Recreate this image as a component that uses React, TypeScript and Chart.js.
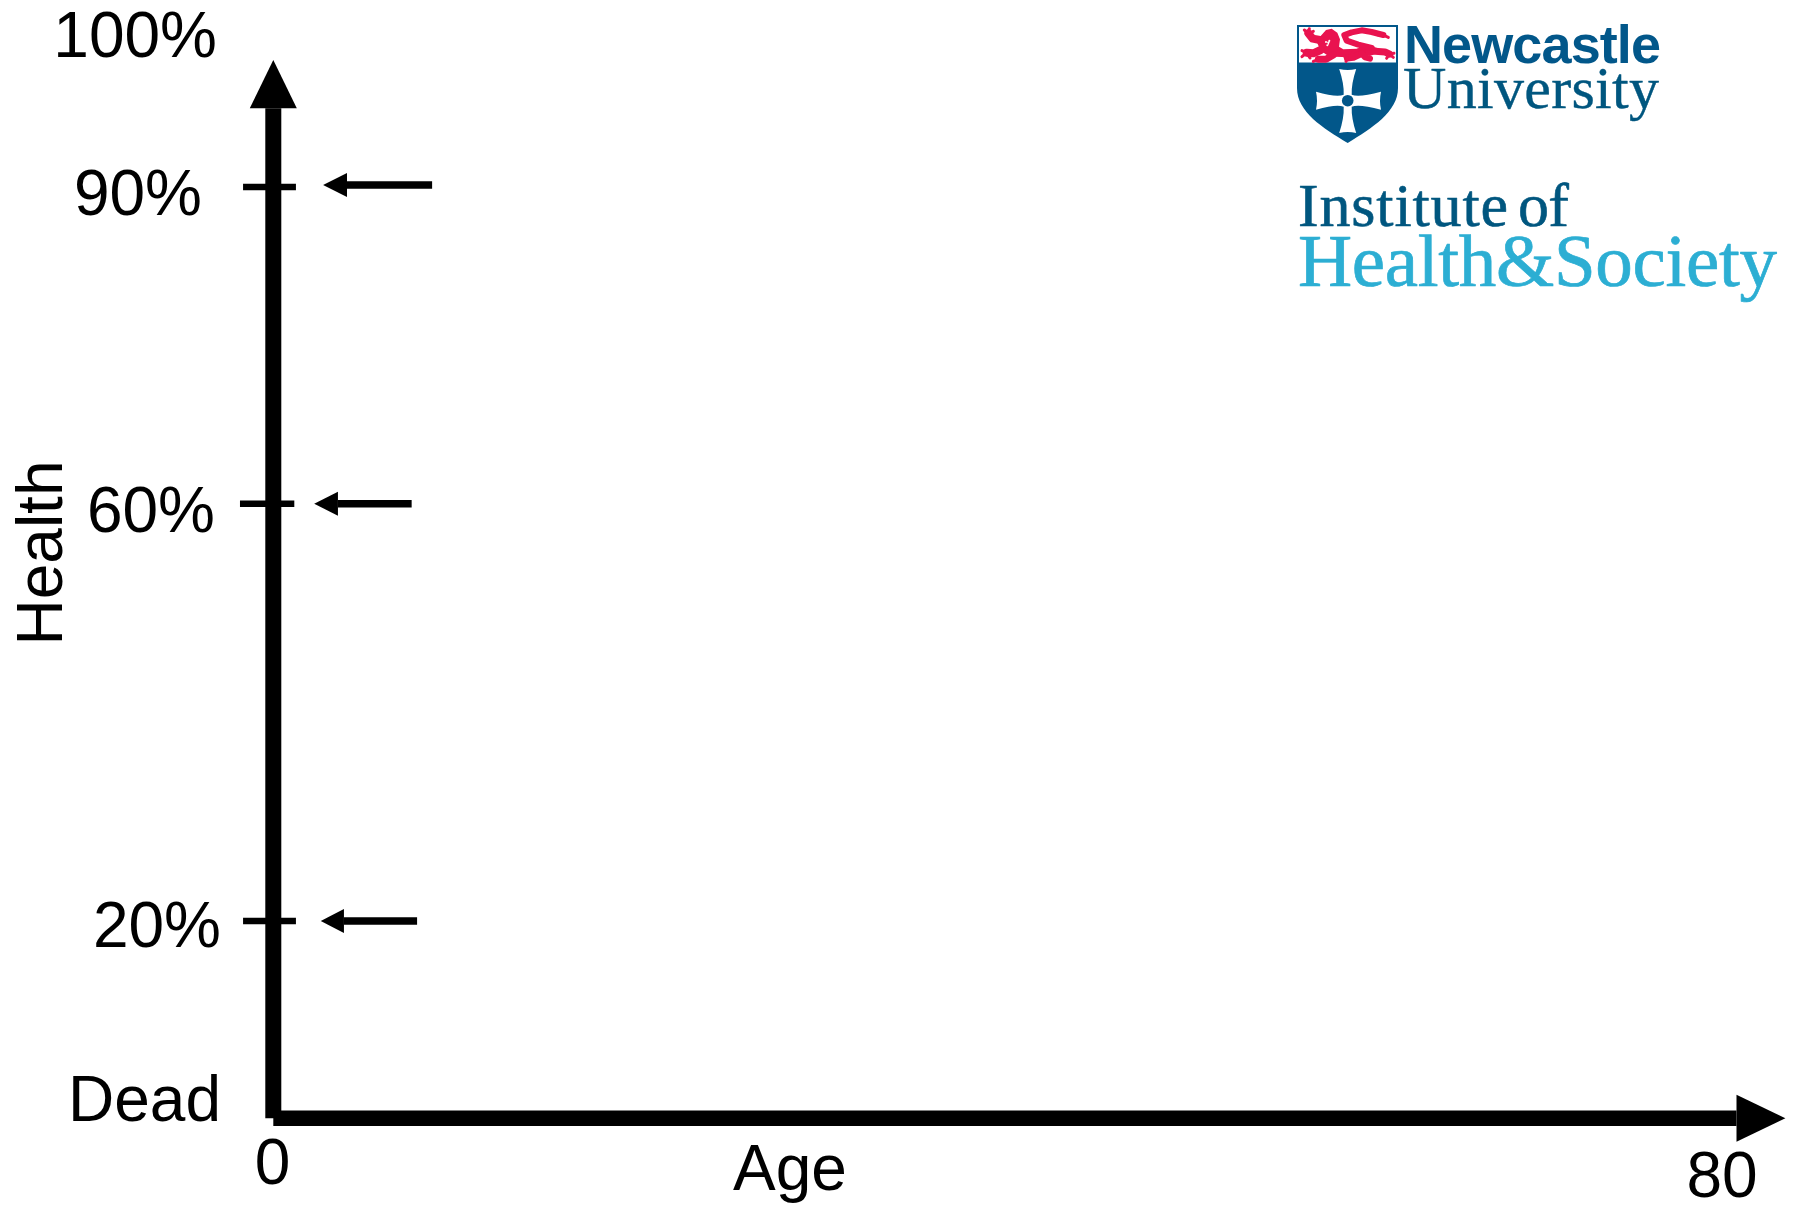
import React, { useEffect, useRef } from "react";
import { Chart, registerables } from "chart.js";

Chart.register(...registerables);

// ---- data (x = age in years, y = health %) ----
const ageRange = [0, 80];
const healthMin = 1.18;
const healthMax = 102.11;

const axisTopHealth = 97.5;
const axisEndAge = 80.8;
const axisTipAge = 83.5;

const tickLevels = [90, 59.8, 20];
const tickStarts = [-1.67, -1.84, -1.67];
const tickEnds = [1.25, 1.16, 1.25];

const arrowLevels = [90.2, 59.8, 20];
const arrowTails = [8.77, 7.64, 7.94];
const arrowBases = [4.07, 3.57, 3.9];
const arrowTips = [2.75, 2.26, 2.62];

const yLabelTexts = ["100%", "90%", "60%", "20%", "Dead"];
const xLabelTexts = ["0", "80"];
const xTitle = "Age";
const yTitle = "Health";

const FONT = '"Liberation Sans", Arial, sans-serif';
const SERIF = '"Liberation Serif", "Times New Roman", serif';
const DARK = "#00567f";
const SHIELD = "#02578a";
const LIGHT = "#2caed3";
const RED = "#e9134f";

// pixel placement of the free-floating labels [right/centre x, baseline y]
const yLabelPlaces = [[217, 56.5], [202, 214.5], [215, 531.5], [221, 947], [221, 1121]];
const xLabelPlaces = [[272.5, 1184], [1722, 1197]];

function fit(ctx: any, text: string, font: string, x: number, y: number, width: number, color: string, weight = 0) {
  ctx.font = font;
  ctx.fillStyle = color;
  ctx.strokeStyle = color;
  ctx.textAlign = "left";
  ctx.letterSpacing = "0px";
  const w = ctx.measureText(text).width;
  ctx.letterSpacing = (width - w) / (text.length - 1) + "px";
  ctx.fillText(text, x, y);
  if (weight > 0) {
    ctx.lineWidth = weight;
    ctx.lineJoin = "round";
    ctx.strokeText(text, x, y);
  }
  ctx.letterSpacing = "0px";
}

function drawLogo(ctx: any) {
  const X = (v: number) => 1290 + v / 3;
  const Y = (v: number) => 20 + v / 3;
  const poly = (pts: number[][]) => {
    ctx.beginPath();
    pts.forEach((p, i) => (i ? ctx.lineTo(X(p[0]), Y(p[1])) : ctx.moveTo(X(p[0]), Y(p[1]))));
    ctx.closePath();
    ctx.fill();
  };
  const stroke = (pts: number[][], w: number) => {
    ctx.lineWidth = w;
    ctx.lineCap = "round";
    ctx.lineJoin = "round";
    ctx.beginPath();
    pts.forEach((p, i) => (i ? ctx.lineTo(X(p[0]), Y(p[1])) : ctx.moveTo(X(p[0]), Y(p[1]))));
    ctx.stroke();
  };
  ctx.save();
  // shield
  ctx.beginPath();
  ctx.moveTo(1297, 25);
  ctx.lineTo(1398, 25);
  ctx.lineTo(1398, 88);
  ctx.bezierCurveTo(1398, 112, 1372, 128, 1347.7, 143);
  ctx.bezierCurveTo(1323, 128, 1297, 112, 1297, 88);
  ctx.closePath();
  ctx.fillStyle = SHIELD;
  ctx.fill();
  ctx.fillStyle = "#ffffff";
  ctx.fillRect(1299, 27, 97, 35.5);
  // cross
  const cx = 1347.7;
  const cy = 100.7;
  ctx.beginPath();
  ctx.moveTo(cx - 8.5, 69);
  ctx.quadraticCurveTo(cx, 71, cx + 8.5, 69);
  ctx.quadraticCurveTo(cx + 3.5, 84, cx + 4, cy - 6);
  ctx.quadraticCurveTo(cx + 11, cy - 3, 1381, cy - 9);
  ctx.quadraticCurveTo(1379, cy, 1381, cy + 9);
  ctx.quadraticCurveTo(cx + 11, cy + 3, cx + 4, cy + 6);
  ctx.quadraticCurveTo(cx + 3.5, 118, cx + 8.5, 133);
  ctx.quadraticCurveTo(cx, 131, cx - 8.5, 133);
  ctx.quadraticCurveTo(cx - 3.5, 118, cx - 4, cy + 6);
  ctx.quadraticCurveTo(cx - 11, cy + 3, 1316, cy + 9);
  ctx.quadraticCurveTo(1318, cy, 1316, cy - 9);
  ctx.quadraticCurveTo(cx - 11, cy - 3, cx - 4, cy - 6);
  ctx.quadraticCurveTo(cx - 3.5, 84, cx - 8.5, 69);
  ctx.closePath();
  ctx.fillStyle = "#ffffff";
  ctx.fill();
  ctx.beginPath();
  ctx.arc(cx, cy, 5.8, 0, Math.PI * 2);
  ctx.fillStyle = SHIELD;
  ctx.fill();
  // lion
  ctx.fillStyle = RED;
  ctx.strokeStyle = RED;
  poly([[92, 48], [108, 30], [125, 26], [142, 38], [150, 58], [147, 80], [160, 88], [200, 86], [240, 78], [262, 84], [262, 100], [240, 108], [205, 104], [175, 112], [135, 110], [112, 106], [92, 92], [82, 70]]);
  stroke([[245, 84], [205, 74], [170, 62], [163, 45], [185, 37], [215, 31], [245, 36], [280, 45]], 6);
  stroke([[262, 44], [282, 46], [295, 52]], 3);
  stroke([[90, 60], [68, 56], [55, 40]], 8);
  stroke([[55, 40], [43, 30]], 3);
  stroke([[55, 40], [58, 26]], 3);
  stroke([[55, 40], [70, 34]], 3);
  stroke([[92, 90], [70, 100], [50, 98]], 8);
  stroke([[50, 98], [36, 92]], 3);
  stroke([[50, 98], [36, 110]], 3);
  stroke([[50, 98], [60, 114]], 3);
  stroke([[130, 105], [108, 118], [85, 118]], 7);
  stroke([[85, 118], [70, 124]], 3);
  stroke([[195, 102], [215, 94]], 8);
  stroke([[215, 100], [190, 112], [172, 114]], 7);
  stroke([[172, 114], [162, 108]], 3);
  stroke([[172, 114], [168, 124]], 3);
  stroke([[255, 94], [285, 96], [298, 102]], 7);
  stroke([[298, 102], [312, 100]], 3);
  stroke([[298, 102], [310, 112]], 3);
  stroke([[298, 102], [290, 115]], 3);
  stroke([[215, 100], [225, 112], [240, 116]], 6);
  ctx.fillStyle = "#ffffff";
  ctx.beginPath();
  ctx.arc(X(108), Y(66), 1, 0, Math.PI * 2);
  ctx.arc(X(118), Y(62), 1, 0, Math.PI * 2);
  ctx.arc(X(112), Y(76), 1, 0, Math.PI * 2);
  ctx.fill();
  // wordmarks
  ctx.textBaseline = "alphabetic";
  fit(ctx, "Newcastle", `bold 54px ${FONT}`, 1404, 63, 257, SHIELD);
  fit(ctx, "University", `60px ${SERIF}`, 1403, 108, 256, DARK, 0.4);
  fit(ctx, "Institute", `62px ${SERIF}`, 1298, 226, 210, DARK, 0.6);
  fit(ctx, "of", `62px ${SERIF}`, 1518, 226, 51, DARK, 0.6);
  fit(ctx, "Health&Society", `75px ${SERIF}`, 1298, 286, 479, LIGHT, 0.7);
  ctx.restore();
}

const overlay = {
  id: "overlay",
  afterDatasetsDraw(chart: any) {
    const { ctx, scales } = chart;
    const px = (v: number) => scales.x.getPixelForValue(v);
    const py = (v: number) => scales.y.getPixelForValue(v);
    const tri = (a: number[], b: number[], c: number[]) => {
      ctx.beginPath();
      ctx.moveTo(a[0], a[1]);
      ctx.lineTo(b[0], b[1]);
      ctx.lineTo(c[0], c[1]);
      ctx.closePath();
      ctx.fill();
    };
    ctx.save();
    ctx.fillStyle = "#000000";
    // axis heads
    const ax = px(0);
    tri([ax, py(healthMax)], [ax - 23.5, py(axisTopHealth)], [ax + 23.5, py(axisTopHealth)]);
    const ay = py(healthMin);
    tri([px(axisTipAge), ay], [px(axisEndAge), ay - 23.5], [px(axisEndAge), ay + 23.5]);
    // small arrow heads
    arrowLevels.forEach((lvl, i) => {
      const y = py(lvl);
      tri([px(arrowTips[i]), y], [px(arrowBases[i]), y - 12], [px(arrowBases[i]), y + 12]);
    });
    // labels
    ctx.textBaseline = "alphabetic";
    ctx.font = `64px ${FONT}`;
    ctx.textAlign = "right";
    yLabelTexts.forEach((t, i) => ctx.fillText(t, yLabelPlaces[i][0], yLabelPlaces[i][1]));
    ctx.textAlign = "center";
    xLabelTexts.forEach((t, i) => ctx.fillText(t, xLabelPlaces[i][0], xLabelPlaces[i][1]));
    ctx.fillText(xTitle, 790, 1190);
    ctx.save();
    ctx.translate(62, 553);
    ctx.rotate(-Math.PI / 2);
    ctx.fillText(yTitle, 0, 0);
    ctx.restore();
    drawLogo(ctx);
    ctx.restore();
  },
};

const whiteBackground = {
  id: "whiteBackground",
  beforeDraw(chart: any) {
    const { ctx, width, height } = chart;
    ctx.save();
    ctx.fillStyle = "#ffffff";
    ctx.fillRect(0, 0, width, height);
    ctx.restore();
  },
};

const seg = (label: string, pts: { x: number; y: number }[], w: number) => ({
  label,
  data: pts,
  borderColor: "#000000",
  backgroundColor: "#000000",
  borderWidth: w,
  borderCapStyle: "butt",
  pointRadius: 0,
  clip: false,
  tension: 0,
});

export default function App() {
  const ref = useRef<HTMLCanvasElement>(null);
  useEffect(() => {
    const chart = new Chart(ref.current as HTMLCanvasElement, {
      type: "line",
      data: {
        datasets: [
          seg("Health axis", [{ x: 0, y: healthMin }, { x: 0, y: axisTopHealth }], 16),
          seg("Age axis", [{ x: 0, y: healthMin }, { x: axisEndAge, y: healthMin }], 15.5),
          ...tickLevels.map((lvl, i) =>
            seg(`tick ${i}`, [{ x: tickStarts[i], y: lvl }, { x: tickEnds[i], y: lvl }], 6.5)
          ),
          ...arrowLevels.map((lvl, i) =>
            seg(`arrow ${i}`, [{ x: arrowTails[i], y: lvl }, { x: arrowBases[i], y: lvl }], 7.5)
          ),
        ] as any,
      },
      options: {
        animation: false,
        responsive: false,
        devicePixelRatio: 1,
        layout: { padding: { left: 273.3, right: 72, top: 60, bottom: 86.7 } },
        plugins: { legend: { display: false }, tooltip: { enabled: false } },
        scales: {
          x: { type: "linear", display: false, min: ageRange[0], max: ageRange[1] },
          y: { type: "linear", display: false, min: healthMin, max: healthMax },
        },
      },
      plugins: [whiteBackground, overlay],
    } as any);
    return () => chart.destroy();
  }, []);
  return (
    <canvas
      ref={ref}
      width={1794}
      height={1205}
      style={{ position: "absolute", left: 0, top: 0, display: "block", width: 1794, height: 1205 }}
    />
  );
}
